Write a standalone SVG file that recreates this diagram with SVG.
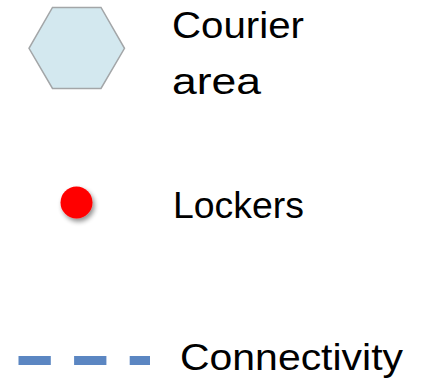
<svg xmlns="http://www.w3.org/2000/svg" width="421" height="381" viewBox="0 0 421 381">
  <defs>
    <style>
      .label { font-family: "Liberation Sans", Arial, sans-serif; font-size: 37px; fill: #000; }
    </style>
    <filter id="dropShadow" x="-50%" y="-50%" width="200%" height="200%">
      <feGaussianBlur in="SourceAlpha" stdDeviation="2.5"/>
      <feOffset dx="2" dy="3" result="blur"/>
      <feComponentTransfer><feFuncA type="linear" slope="0.45"/></feComponentTransfer>
      <feMerge><feMergeNode/><feMergeNode in="SourceGraphic"/></feMerge>
    </filter>
  </defs>
  <rect width="421" height="381" fill="#ffffff"/>

  <!-- Courier area symbol -->
  <g id="courier-area">
    <polygon points="52.5,7.5 101,7.5 124.5,48.3 101,88.5 52.5,88.5 29,48.3" fill="#d3e8ef" stroke="#a3a6a8" stroke-width="1.5"/>
    <text class="label" x="172" y="38" textLength="132" lengthAdjust="spacingAndGlyphs">Courier</text>
    <text class="label" x="172" y="94" textLength="89" lengthAdjust="spacingAndGlyphs">area</text>
  </g>

  <!-- Lockers symbol -->
  <g id="lockers">
    <circle cx="76.5" cy="202.5" r="16" fill="#ff0000" filter="url(#dropShadow)"/>
    <text class="label" x="173" y="218" textLength="131" lengthAdjust="spacingAndGlyphs">Lockers</text>
  </g>

  <!-- Connectivity symbol -->
  <g id="connectors">
    <line x1="18.5" y1="360.5" x2="150" y2="360.5" stroke="#5b86c2" stroke-width="9" stroke-dasharray="32.3 23.3"/>
  </g>
  <g id="connectivity">
    <text class="label" x="180" y="369.5" textLength="223" lengthAdjust="spacingAndGlyphs">Connectivity</text>
  </g>
</svg>
